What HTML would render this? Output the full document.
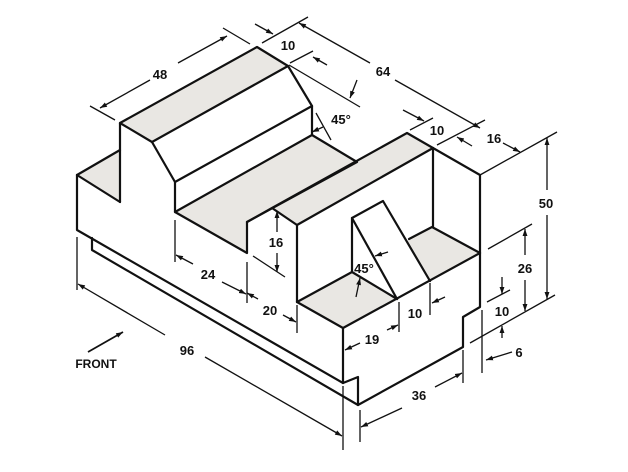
<!DOCTYPE html>
<html><head><meta charset="utf-8"><style>
html,body{margin:0;padding:0;background:#fff;}
svg{display:block;}
text{font-family:"Liberation Sans",sans-serif;font-weight:bold;font-size:13px;fill:#111;}
</style></head><body>
<svg width="628" height="472" viewBox="0 0 628 472" xmlns="http://www.w3.org/2000/svg">
<defs>
<marker id="a" viewBox="0 0 10 10" refX="10" refY="5" markerWidth="7" markerHeight="7" orient="auto-start-reverse" markerUnits="userSpaceOnUse">
<path d="M0,1.5 L10,5 L0,8.5 z" fill="#111"/>
</marker>
</defs>
<!-- shaded faces -->
<g fill="#e9e7e3" stroke="none">
<polygon points="120,123 257,47 288,66 152,142"/>
<polygon points="77,175 120,150 120,202"/>
<polygon points="175,212 312,135 357,162 247,222 247,253"/>
<polygon points="272,208 407,133 433,148 297,225"/>
<polygon points="297,302 432,227 480,253 343,328"/>
</g>
<polygon points="352,272 352,218 383,200 430,282 397,300" fill="#fff"/>
<!-- object lines -->
<g fill="none" stroke="#111" stroke-width="2.2" stroke-linejoin="round" stroke-linecap="round">
<path d="M120,202 V123 L257,47 L288,66 L312,106 V135"/>
<path d="M120,123 L152,142 L288,66"/>
<path d="M152,142 L175,182 L312,106"/>
<path d="M175,182 V212 L247,253 V222 L357,162 L312,135"/>
<path d="M175,212 L312,135"/>
<path d="M77,175 L120,150"/>
<path d="M77,175 L120,202"/>
<path d="M77,175 V230 L343,383 L358,377 V405 L463,347 V317 L480,307 V175 L433,148"/>
<path d="M92,238 V250 L358,405"/>
<path d="M247,222 L272,208 L407,133 L433,148 L297,225 L272,208"/>
<path d="M297,225 V302"/>
<path d="M433,148 V227"/>
<path d="M297,302 L343,328 L480,253"/>
<path d="M343,328 V383"/>
<path d="M297,302 L352,272"/>
<path d="M409,239 L432,227 L480,253"/>
<path d="M352,272 V218 L383,201 L430,281"/>
<path d="M352,218 L397,299"/>
<path d="M352,272 L397,299"/>
</g>
<!-- dimension lines -->
<g fill="none" stroke="#111" stroke-width="1.3">
<path d="M90,106 L115,120"/><path d="M223,28 L250,44"/>
<path d="M150,80 L100,108" marker-end="url(#a)"/><path d="M178,63 L227,36" marker-end="url(#a)"/>
<path d="M262,43 L308,17"/>
<path d="M255,24 L273,34" marker-end="url(#a)"/>
<path d="M290,63 L313,51"/>
<path d="M327,65 L313,57" marker-end="url(#a)"/>
<path d="M370,63 L299,23" marker-end="url(#a)"/><path d="M395,80 L480,128" marker-end="url(#a)"/>
<path d="M289,65 L360,107"/>
<path d="M357,80 L350,98" marker-end="url(#a)"/>
<path d="M316,113 L331,140"/>
<path d="M323,127 L312,132" marker-end="url(#a)"/>
<path d="M410,130 L433,118"/>
<path d="M403,110 L424,121" marker-end="url(#a)"/>
<path d="M437,145 L485,120"/>
<path d="M472,146 L457,137" marker-end="url(#a)"/>
<path d="M503,143 L520,152" marker-end="url(#a)"/>
<path d="M480,175 L557,132"/>
<path d="M547,190 V138" marker-end="url(#a)"/><path d="M547,215 V299" marker-end="url(#a)"/>
<path d="M470,343 L555,295"/>
<path d="M488,249 L532,224"/>
<path d="M525,255 V229" marker-end="url(#a)"/><path d="M525,280 V311" marker-end="url(#a)"/>
<path d="M487,302 L510,290"/>
<path d="M502,277 V294" marker-end="url(#a)"/><path d="M502,338 V326" marker-end="url(#a)"/>
<path d="M512,352 L486,360" marker-end="url(#a)"/>
<path d="M482,310 V373"/>
<path d="M463,350 V383"/>
<path d="M402,408 L361,427" marker-end="url(#a)"/><path d="M435,387 L462,373" marker-end="url(#a)"/>
<path d="M360,410 V442"/>
<path d="M77,237 V290"/><path d="M343,386 V450"/>
<path d="M165,335 L78,284" marker-end="url(#a)"/><path d="M205,357 L342,436" marker-end="url(#a)"/>
<path d="M360,343 L345,350" marker-end="url(#a)"/><path d="M387,330 L398,325" marker-end="url(#a)"/>
<path d="M399,302 V332"/>
<path d="M430,283 V315"/>
<path d="M445,297 L432,303" marker-end="url(#a)"/>
<path d="M247,262 V303"/><path d="M297,305 V333"/>
<path d="M258,299 L247,293" marker-end="url(#a)"/>
<path d="M283,315 L296,322" marker-end="url(#a)"/>
<path d="M175,220 V262"/>
<path d="M193,264 L176,255" marker-end="url(#a)"/>
<path d="M222,282 L246,294" marker-end="url(#a)"/>
<path d="M277,232 V211" marker-end="url(#a)"/><path d="M277,253 V272" marker-end="url(#a)"/>
<path d="M253,256 L285,277"/>
<path d="M356,297 L360,278" marker-end="url(#a)"/>
<path d="M388,252 L375,256" marker-end="url(#a)"/>
<path d="M88,352 L123,332" marker-end="url(#a)" stroke-width="1.8"/>
</g>
<!-- labels -->
<g text-anchor="middle">
<text x="160" y="79">48</text>
<text x="288" y="50">10</text>
<text x="383" y="76">64</text>
<text x="341" y="124">45°</text>
<text x="437" y="135">10</text>
<text x="494" y="143">16</text>
<text x="546" y="208">50</text>
<text x="525" y="273">26</text>
<text x="502" y="316">10</text>
<text x="519" y="357">6</text>
<text x="419" y="400">36</text>
<text x="372" y="344">19</text>
<text x="415" y="318">10</text>
<text x="364" y="273">45°</text>
<text x="270" y="315">20</text>
<text x="208" y="279">24</text>
<text x="276" y="247">16</text>
<text x="187" y="355">96</text>
<text x="96" y="368" style="font-size:12px">FRONT</text>
</g>
</svg>
</body></html>
